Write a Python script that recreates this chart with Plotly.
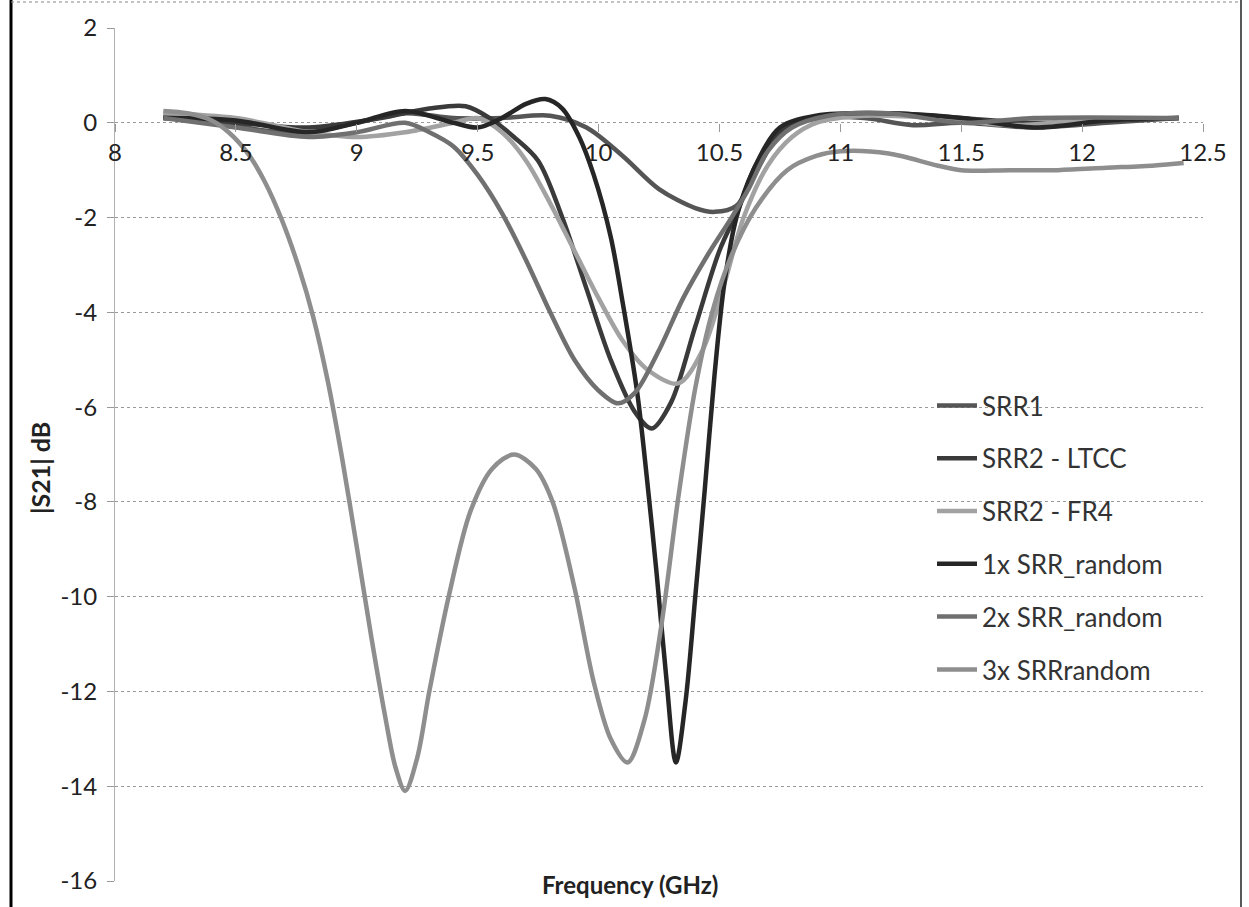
import plotly.graph_objects as go

# ---- data ----
srr1_x = [8.2, 8.4, 8.6, 8.8, 9.0, 9.2, 9.4, 9.6, 9.8, 9.95, 10.1, 10.25, 10.4, 10.48, 10.57, 10.65, 10.76, 10.9, 11.1, 11.3, 11.5, 11.8, 12.1, 12.4]
srr1_y = [0.15, 0.05, -0.15, -0.2, 0.0, 0.2, 0.1, 0.1, 0.15, -0.1, -0.7, -1.4, -1.8, -1.88, -1.75, -1.05, -0.15, 0.1, 0.1, -0.05, 0.0, -0.1, 0.0, 0.1]

ltcc_x = [8.2, 8.5, 8.8, 9.1, 9.3, 9.45, 9.55, 9.65, 9.75, 9.85, 9.95, 10.05, 10.15, 10.22, 10.3, 10.4, 10.5, 10.58, 10.65, 10.75, 10.9, 11.2, 11.5, 11.8, 12.1, 12.4]
ltcc_y = [0.1, 0.0, -0.1, 0.1, 0.3, 0.35, 0.1, -0.3, -0.8, -2.0, -3.5, -5.0, -6.1, -6.45, -5.9, -4.3, -2.7, -1.8, -0.9, -0.2, 0.1, 0.2, 0.1, 0.0, 0.05, 0.1]

fr4_x = [8.2, 8.5, 8.8, 9.0, 9.2, 9.4, 9.5, 9.6, 9.7, 9.8, 9.9, 10.0, 10.1, 10.2, 10.33, 10.43, 10.52, 10.6, 10.7, 10.8, 10.9, 11.1, 11.4, 11.7, 12.0, 12.4]
fr4_y = [0.2, 0.1, -0.2, -0.3, -0.2, 0.0, 0.1, -0.2, -0.8, -1.7, -2.7, -3.7, -4.6, -5.2, -5.5, -4.8, -3.4, -2.0, -0.9, -0.3, 0.0, 0.15, 0.1, -0.05, 0.05, 0.1]

r1_x = [8.2, 8.5, 8.8, 9.0, 9.2, 9.4, 9.5, 9.6, 9.7, 9.78, 9.85, 9.92, 9.98, 10.05, 10.1, 10.16, 10.2, 10.24, 10.28, 10.32, 10.36, 10.4, 10.44, 10.48, 10.52, 10.57, 10.64, 10.75, 10.9, 11.2, 11.5, 11.8, 12.1, 12.4]
r1_y = [0.1, 0.05, -0.2, 0.0, 0.25, 0.0, -0.1, 0.1, 0.4, 0.5, 0.3, -0.3, -1.1, -2.4, -3.8, -5.7, -7.5, -9.5, -11.7, -13.5, -12.2, -10.0, -7.7, -5.3, -3.4, -2.0, -1.0, -0.1, 0.15, 0.2, 0.1, -0.1, 0.05, 0.1]

r2_x = [8.2, 8.5, 8.8, 9.0, 9.2, 9.3, 9.4, 9.5, 9.6, 9.7, 9.8, 9.9, 10.0, 10.08, 10.15, 10.25, 10.35, 10.45, 10.55, 10.62, 10.7, 10.8, 10.95, 11.2, 11.5, 11.8, 12.4]
r2_y = [0.1, -0.1, -0.3, -0.2, 0.0, -0.2, -0.5, -1.1, -1.9, -2.9, -4.0, -5.0, -5.65, -5.92, -5.7, -4.8, -3.7, -2.8, -2.0, -1.4, -0.6, -0.1, 0.15, 0.2, 0.0, 0.1, 0.1]

r3_x = [8.2, 8.3, 8.4, 8.47, 8.55, 8.62, 8.69, 8.76, 8.82, 8.88, 8.94, 9.0, 9.06, 9.12, 9.16, 9.2, 9.25, 9.3, 9.38, 9.47, 9.56, 9.65, 9.74, 9.81, 9.9, 9.98, 10.05, 10.12, 10.19, 10.26, 10.33, 10.4, 10.47, 10.55, 10.65, 10.78, 10.9, 11.0, 11.2, 11.4, 11.5, 11.7, 11.9, 12.1, 12.3, 12.42]
r3_y = [0.25, 0.2, 0.05, -0.2, -0.65, -1.25, -2.05, -3.05, -4.1, -5.45, -7.1, -8.95, -10.85, -12.6, -13.6, -14.1, -13.4, -12.0, -10.0, -8.2, -7.3, -7.0, -7.3, -8.0, -9.8, -11.8, -13.0, -13.5, -12.6, -10.6, -7.9, -5.6, -4.0, -2.8, -1.8, -1.0, -0.7, -0.6, -0.65, -0.9, -1.0, -1.0, -1.0, -0.95, -0.9, -0.85]

series = [
    ("SRR1", srr1_x, srr1_y, "#555555"),
    ("SRR2 - LTCC", ltcc_x, ltcc_y, "#3a3a3a"),
    ("SRR2 - FR4", fr4_x, fr4_y, "#a2a2a2"),
    ("1x SRR_random", r1_x, r1_y, "#262626"),
    ("2x SRR_random", r2_x, r2_y, "#707070"),
    ("3x SRRrandom", r3_x, r3_y, "#8e8e8e"),
]

x_ticks = [8, 8.5, 9, 9.5, 10, 10.5, 11, 11.5, 12, 12.5]
y_ticks = [2, 0, -2, -4, -6, -8, -10, -12, -14, -16]

FONT = "Lato"

fig = go.Figure()
for i, (name, xs, ys, col) in enumerate(series):
    fig.add_trace(go.Scatter(x=xs, y=ys, name=name, mode="lines",
                             line=dict(color=col, width=4.5, shape="spline", smoothing=0.9),
                             legendgroup=f"g{i}"))

L, R, T, B = 115, 46, 28, 26
W, H = 1249, 907
pw, ph = W - L - R, H - T - B

fig.update_layout(
    width=W, height=H,
    margin=dict(l=L, r=R, t=T, b=B),
    paper_bgcolor="white", plot_bgcolor="white",
    font=dict(family=FONT, size=23, color="#222"),
    showlegend=True,
    legend=dict(x=(932 - L) / pw, y=(H - B - 382) / ph, xanchor="left", yanchor="top",
                bgcolor="rgba(0,0,0,0)", font=dict(family=FONT, size=26, color="#333"),
                traceorder="grouped", tracegroupgap=16, itemwidth=40),
    xaxis=dict(range=[8, 12.5], tickvals=x_ticks, ticktext=[f"{v:g}" for v in x_ticks],
               anchor="free", position=16 / 18, showgrid=False, zeroline=False,
               showline=False, ticks="outside", ticklen=8, tickcolor="#999",
               tickfont=dict(family=FONT, size=24, color="#222")),
    yaxis=dict(range=[-16, 2], tickvals=y_ticks, ticktext=[f"{v:g}" for v in y_ticks],
               showgrid=True, gridcolor="#9a9a9a", griddash="dot", gridwidth=1,
               zeroline=False, showline=True, linecolor="#b0b0b0", linewidth=1,
               ticks="outside", ticklen=7, tickcolor="#999", ticklabelstandoff=5,
               tickfont=dict(family=FONT, size=24, color="#222")),
)

# axis titles
fig.add_annotation(text="<b>Frequency (GHz)</b>", xref="paper", yref="paper",
                   x=(630 - L) / pw, y=(H - B - 884) / ph, xanchor="center", yanchor="middle",
                   showarrow=False, font=dict(family=FONT, size=24, color="#222"), bgcolor="white")
fig.add_annotation(text="<b>|S21| dB</b>", xref="paper", yref="paper",
                   x=(40 - L) / pw, y=(H - B - 468) / ph, xanchor="center", yanchor="middle",
                   showarrow=False, textangle=-90,
                   font=dict(family=FONT, size=25, color="#222"))

# outer chart border
def px(xp):
    return (xp - L) / pw

def py(yp):
    return (H - B - yp) / ph

fig.add_shape(type="line", xref="paper", yref="paper", x0=px(11), x1=px(11), y0=py(0), y1=py(907),
              line=dict(color="black", width=3))
fig.add_shape(type="line", xref="paper", yref="paper", x0=px(11), x1=px(1241), y0=py(2), y1=py(2),
              line=dict(color="#888", width=1, dash="dot"))
fig.add_shape(type="line", xref="paper", yref="paper", x0=px(1241), x1=px(1241), y0=py(0), y1=py(907),
              line=dict(color="#222", width=1.5))

fig.write_html("out.html")
